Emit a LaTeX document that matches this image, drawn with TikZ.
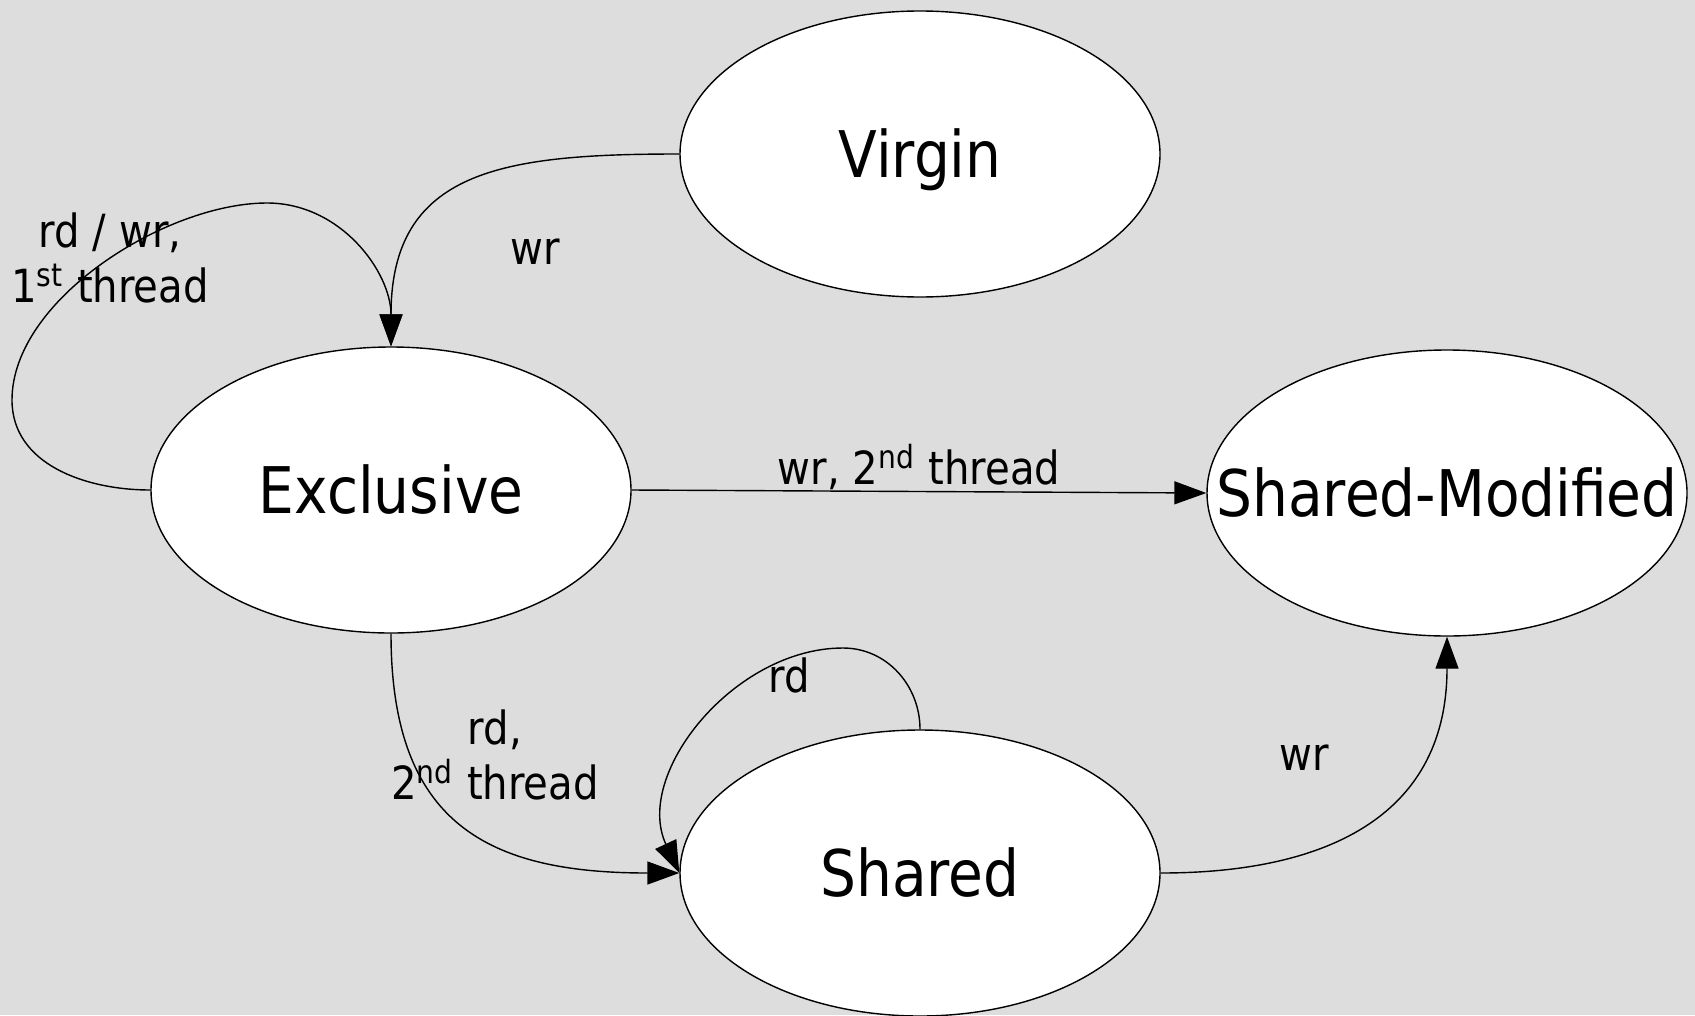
\documentclass[tikz,border=0pt]{standalone}
\usepackage{fontspec}
\setmainfont{DejaVu Sans}[FakeStretch=0.88]
\usetikzlibrary{shapes.geometric, arrows.meta, positioning}
\definecolor{bggray}{RGB}{221, 221, 221}

\begin{document}
\begin{tikzpicture}[
  state/.style={draw, ellipse, fill=white, minimum width=4.8cm, minimum height=2.86cm, inner sep=0pt, text height=13.4pt, text depth=0pt, font=\fontsize{18.3}{22}\selectfont},
  trans/.style={draw, -{Triangle[length=3.2mm, width=2.3mm]}},
  lbl/.style={align=center, font=\fontsize{13}{15.4}\selectfont}
]
  \fill[bggray] (0,0) rectangle (16.95,10.15);
  \useasboundingbox (0,0) rectangle (16.95,10.15);

  \node[state] (virgin) at (9.20, 8.61) {Virgin};
  \node[state] (excl) at (3.91, 5.25) {Exclusive};
  \node[state, inner xsep=-1.4cm] (shmod) at (14.47, 5.22) {Shared-Modified};
  \node[state] (shared) at (9.20, 1.42) {Shared};

  \draw[trans] (virgin.west) to[out=180, in=90, looseness=1.3] (excl.north);
  \draw[trans] (excl.west) to[out=180, in=270] (0.12, 6.15) to[out=90, in=180, looseness=0.8] (2.67, 8.12) to[out=0, in=90] (excl.north);
  \draw[trans] (excl.east) -- (shmod.west);
  \draw[trans] (excl.south) to[out=270, in=180, looseness=1.3] (shared.west);
  \draw[trans] (shared.north) to[out=90, in=0] (8.43, 3.67) to[out=180, in=115] (shared.west);
  \draw[trans] (shared.east) to[out=0, in=270, looseness=1.2] (shmod.south);

  \node[lbl] (lwr) at (5.35, 7.63) {wr};
  \node[lbl] (lfirst) at (1.10, 7.57) {rd / wr,\\1\textsuperscript{st} thread};
  \node[lbl] (lsecwr) at (9.19, 5.48) {wr, 2\textsuperscript{nd} thread};
  \node[lbl] (lsecrd) at (4.95, 2.60) {rd,\\2\textsuperscript{nd} thread};
  \node[lbl] (lrd) at (7.89, 3.40) {rd};
  \node[lbl] (lwrsm) at (13.04, 2.57) {wr};
\end{tikzpicture}
\end{document}
